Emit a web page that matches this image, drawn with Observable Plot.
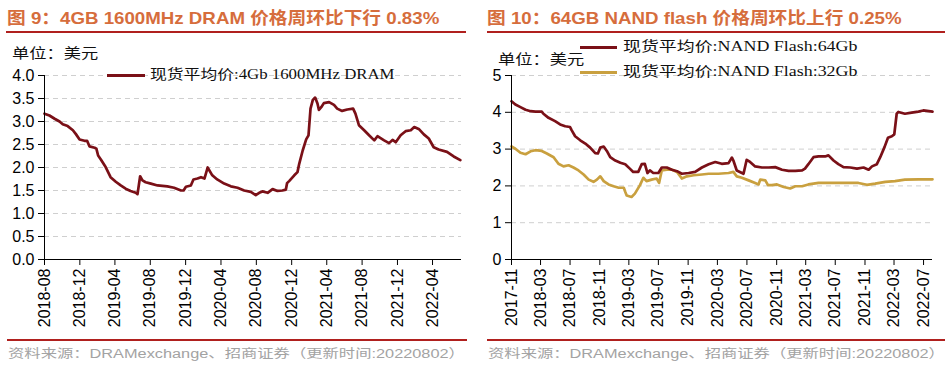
<!DOCTYPE html>
<html><head><meta charset="utf-8">
<script src="https://cdn.jsdelivr.net/npm/d3@7"></script>
<script src="https://cdn.jsdelivr.net/npm/@observablehq/plot@0.6"></script>
<style>
body{margin:0;background:#fff;width:950px;height:367px;position:relative;overflow:hidden;font-family:"Liberation Sans",Arial,"Noto Sans CJK SC",sans-serif;}
.abs{position:absolute;white-space:nowrap;}
.title{font-weight:bold;color:#D66D3C;font-size:17px;line-height:20px;font-family:"Liberation Sans",Arial,"Noto Sans CJK SC",sans-serif;transform:scaleX(1.1);transform-origin:left center;}
.rule{position:absolute;height:2px;background:#B0201E;}
.unit{font-size:14px;line-height:16px;color:#111;font-family:"Noto Sans CJK SC",sans-serif;transform:scaleX(1.23);transform-origin:left center;}
.leg{font-size:14px;line-height:16px;color:#111;font-family:"Liberation Serif","Noto Sans CJK SC",serif;transform-origin:left center;}
.legline{position:absolute;height:3px;}
.cap{font-size:12.5px;line-height:16px;color:#a3a3a3;font-family:"Liberation Sans",Arial,"Noto Sans CJK SC",sans-serif;transform:scaleX(1.305);transform-origin:left center;}
.panel{position:absolute;top:60px;}
</style>
</head><body>
<div class="abs title" style="left:7px;top:9px;">图 9：4GB 1600MHz DRAM 价格周环比下行 0.83%</div>
<div class="rule" style="left:6px;top:31px;width:460px;"></div>
<div class="abs title" style="left:487px;top:9px;">图 10：64GB NAND flash 价格周环比上行 0.25%</div>
<div class="rule" style="left:487px;top:31px;width:458px;"></div>

<div id="left" class="panel" style="left:0px;"></div>
<div id="right" class="panel" style="left:475px;"></div>

<div class="abs unit" style="left:12px;top:44px;">单位：美元</div>
<div class="abs unit" style="left:498px;top:50px;">单位：美元</div>

<div class="legline" style="left:107px;top:74px;width:38px;background:#7A1017;"></div>
<div class="abs leg" style="left:150px;top:67px;transform:scaleX(1.2);">现货平均价:4Gb 1600MHz DRAM</div>
<div class="legline" style="left:580px;top:46px;width:37px;background:#7A1017;"></div>
<div class="abs leg" style="left:623px;top:39px;transform:scaleX(1.28);">现货平均价:NAND Flash:64Gb</div>
<div class="legline" style="left:580px;top:71px;width:37px;background:#C9A03F;"></div>
<div class="abs leg" style="left:623px;top:64px;transform:scaleX(1.28);">现货平均价:NAND Flash:32Gb</div>

<div class="rule" style="left:7px;top:339px;width:460px;"></div>
<div class="rule" style="left:487px;top:339px;width:458px;"></div>
<div class="abs cap" style="left:8px;top:346px;">资料来源：DRAMexchange、招商证券（更新时间:20220802）</div>
<div class="abs cap" style="left:488px;top:346px;">资料来源：DRAMexchange、招商证券（更新时间:20220802）</div>

<script>
// ---- Figure 9: 4Gb 1600MHz DRAM spot average price (USD) ----
const dramTicks = ["2018-08","2018-12","2019-04","2019-08","2019-12","2020-04","2020-08","2020-12","2021-04","2021-08","2021-12","2022-04"];
const dramYTicks = [0,0.5,1,1.5,2,2.5,3,3.5,4];
const dramDates = ["2018-08-01","2018-08-18","2018-09-05","2018-09-22","2018-10-03","2018-10-20","2018-11-07","2018-11-18","2018-11-30","2018-12-17",
"2018-12-26","2019-01-03","2019-01-21","2019-01-27","2019-02-02","2019-02-12","2019-02-28","2019-03-17","2019-04-04","2019-04-21",
"2019-05-08","2019-05-25","2019-06-12","2019-06-18","2019-06-27","2019-07-05","2019-07-16","2019-08-03","2019-08-26","2019-09-29",
"2019-10-22","2019-11-15","2019-11-24","2019-12-02","2019-12-19","2019-12-28","2020-01-11","2020-01-23","2020-02-04","2020-02-15",
"2020-03-02","2020-03-19","2020-04-12","2020-05-05","2020-05-28","2020-06-20","2020-07-13","2020-07-30","2020-08-11","2020-08-22",
"2020-09-09","2020-09-26","2020-10-13","2020-10-30","2020-11-11","2020-11-15","2020-11-23","2020-12-10","2020-12-21","2020-12-27",
"2021-01-08","2021-01-20","2021-01-28","2021-02-04","2021-02-12","2021-02-20","2021-02-28","2021-03-05","2021-03-13","2021-03-22",
"2021-04-09","2021-04-26","2021-05-07","2021-05-24","2021-06-11","2021-07-01","2021-07-09","2021-07-21","2021-08-08","2021-08-25",
"2021-09-12","2021-09-23","2021-10-16","2021-11-02","2021-11-14","2021-11-25","2021-12-12","2021-12-29","2022-01-16","2022-01-28",
"2022-02-14","2022-03-02","2022-03-19","2022-04-05","2022-04-22","2022-05-21","2022-06-13","2022-07-06"];
const dramValues = [3.17,3.13,3.06,3.0,2.94,2.9,2.81,2.72,2.61,2.58,
2.58,2.46,2.43,2.41,2.26,2.17,2.01,1.79,1.69,1.61,
1.54,1.49,1.45,1.42,1.81,1.72,1.68,1.65,1.61,1.59,
1.56,1.5,1.5,1.58,1.61,1.74,1.76,1.79,1.76,2.0,
1.83,1.74,1.65,1.59,1.56,1.5,1.47,1.4,1.45,1.48,
1.45,1.53,1.49,1.5,1.52,1.66,1.71,1.83,1.9,2.08,
2.37,2.61,2.7,3.28,3.47,3.52,3.39,3.25,3.31,3.4,
3.42,3.36,3.28,3.23,3.26,3.28,3.17,2.92,2.81,2.7,
2.59,2.68,2.59,2.53,2.6,2.55,2.7,2.79,2.81,2.88,
2.83,2.72,2.63,2.44,2.39,2.34,2.24,2.16];

// ---- Figure 10: NAND Flash spot average price (USD) ----
const nandTicks = ["2017-11","2018-03","2018-07","2018-11","2019-03","2019-07","2019-11","2020-03","2020-07","2020-11","2021-03","2021-07","2021-11","2022-03","2022-07"];
const nandYTicks = [0,1,2,3,4,5];
const nand64Dates = ["2017-11-01","2017-11-17","2017-12-08","2017-12-29","2018-01-19","2018-02-08","2018-03-06","2018-03-13","2018-04-03","2018-04-30",
"2018-05-21","2018-06-11","2018-07-01","2018-07-08","2018-07-22","2018-08-12","2018-09-02","2018-09-22","2018-10-13","2018-10-24",
"2018-11-03","2018-11-17","2018-11-30","2018-12-14","2019-01-04","2019-01-25","2019-02-14","2019-03-05","2019-03-19","2019-04-09",
"2019-04-23","2019-05-06","2019-05-17","2019-05-27","2019-06-10","2019-07-01","2019-07-15","2019-08-05","2019-08-26","2019-09-16",
"2019-10-06","2019-11-03","2019-11-30","2019-12-28","2020-01-25","2020-02-21","2020-03-19","2020-04-16","2020-04-30","2020-05-06",
"2020-05-20","2020-06-17","2020-06-30","2020-07-14","2020-08-04","2020-09-01","2020-09-29","2020-10-26","2020-11-23","2020-12-20",
"2021-01-17","2021-02-14","2021-02-26","2021-03-12","2021-04-02","2021-04-23","2021-05-20","2021-06-03","2021-06-24","2021-07-14",
"2021-08-04","2021-09-01","2021-09-29","2021-10-26","2021-11-16","2021-11-30","2021-12-20","2022-01-03","2022-01-21","2022-02-04",
"2022-02-20","2022-03-02","2022-03-12","2022-03-19","2022-04-15","2022-05-13","2022-06-10","2022-06-30","2022-08-07"];
const nand64Values = [4.30,4.21,4.14,4.07,4.03,4.02,4.02,3.96,3.85,3.76,
3.67,3.62,3.6,3.51,3.35,3.24,3.15,3.04,2.89,2.88,
3.04,3.07,2.95,2.78,2.69,2.63,2.59,2.47,2.38,2.38,
2.59,2.6,2.35,2.42,2.35,2.35,2.5,2.5,2.44,2.4,
2.33,2.35,2.38,2.5,2.59,2.65,2.6,2.62,2.77,2.69,
2.42,2.33,2.71,2.65,2.53,2.5,2.5,2.51,2.44,2.41,
2.41,2.42,2.47,2.59,2.78,2.8,2.8,2.83,2.69,2.59,
2.51,2.5,2.47,2.5,2.44,2.53,2.59,2.78,3.06,3.31,
3.35,3.4,3.96,4.01,3.96,3.99,4.02,4.05,4.02];
const nand32Dates = ["2017-11-01","2017-11-17","2017-12-08","2017-12-29","2018-01-19","2018-02-08","2018-03-06","2018-03-27","2018-04-24","2018-05-14",
"2018-06-04","2018-06-25","2018-07-15","2018-08-05","2018-08-26","2018-09-16","2018-10-06","2018-10-20","2018-11-03","2018-11-17",
"2018-12-07","2018-12-28","2019-01-18","2019-02-08","2019-02-14","2019-02-20","2019-03-12","2019-03-26","2019-04-16","2019-04-30",
"2019-05-13","2019-06-03","2019-06-24","2019-07-04","2019-07-15","2019-08-05","2019-08-26","2019-09-16","2019-10-06","2019-10-27",
"2019-11-24","2019-12-28","2020-01-25","2020-03-05","2020-04-16","2020-05-06","2020-05-20","2020-06-10","2020-07-08","2020-08-04",
"2020-08-18","2020-08-25","2020-09-15","2020-09-26","2020-10-12","2020-11-02","2020-11-30","2020-12-27","2021-01-17","2021-02-14",
"2021-03-12","2021-04-23","2021-06-17","2021-08-11","2021-10-05","2021-11-09","2021-12-13","2022-01-24","2022-03-05","2022-04-15",
"2022-06-10","2022-08-07"];
const nand32Values = [3.07,3.01,2.90,2.86,2.94,2.97,2.95,2.88,2.78,2.60,
2.53,2.56,2.50,2.42,2.31,2.17,2.11,2.17,2.26,2.13,
2.04,1.99,1.95,1.95,1.84,1.74,1.70,1.79,2.02,2.22,
2.13,2.17,2.20,2.08,2.42,2.44,2.44,2.38,2.20,2.26,
2.29,2.31,2.33,2.33,2.35,2.38,2.26,2.22,2.15,2.08,
2.04,2.17,2.15,2.02,2.02,2.04,1.97,1.93,1.99,1.99,
2.04,2.08,2.08,2.08,2.08,2.03,2.06,2.11,2.13,2.17,
2.18,2.18];

const C_DARK = "#7A1017", C_GOLD = "#C9A03F";
const toDate = s => new Date(s.length === 7 ? s + "-01T00:00:00Z" : s + "T00:00:00Z");
const rows = (dates, values) => dates.map((d, i) => ({date: toDate(d), value: values[i]}));

function chart({xDomain, xTicks, yTicks, fmt, series, ml, mr}) {
  const yDomain = [yTicks[0], yTicks[yTicks.length - 1]];
  return Plot.plot({
    width: 475, height: 280, marginTop: 15, marginBottom: 81, marginLeft: ml, marginRight: mr,
    style: {fontFamily: '"Liberation Sans", Arial, sans-serif', fontSize: "16px", color: "#000", background: "transparent", overflow: "visible"},
    x: {type: "utc", domain: xDomain, ticks: xTicks.map(toDate), tickFormat: d3.utcFormat("%Y-%m"), tickRotate: -90, tickSize: 6, tickPadding: 3, label: null},
    y: {domain: yDomain, ticks: yTicks, tickFormat: fmt, tickSize: 6, tickPadding: 4, label: null},
    marks: [
      Plot.ruleY(yTicks.filter(d => d > yDomain[0]), {stroke: "#cfcfcf", strokeDasharray: "5,4", strokeWidth: 1}),
      ...series.map(s => Plot.line(s.data, {x: "date", y: "value", stroke: s.color, strokeWidth: 2.7})),
      Plot.ruleY([yDomain[0]], {stroke: "#000", strokeWidth: 1}),
      Plot.ruleX([xDomain[0]], {stroke: "#000", strokeWidth: 1})
    ]
  });
}

document.getElementById("left").appendChild(chart({
  xDomain: [toDate("2018-08-01"), toDate("2022-07-10")],
  xTicks: dramTicks, yTicks: dramYTicks, fmt: d => d.toFixed(1),
  series: [{data: rows(dramDates, dramValues), color: C_DARK}],
  ml: 44, mr: 14
}));
document.getElementById("right").appendChild(chart({
  xDomain: [toDate("2017-11-01"), toDate("2022-08-07")],
  xTicks: nandTicks, yTicks: nandYTicks, fmt: d => String(d),
  series: [{data: rows(nand32Dates, nand32Values), color: C_GOLD}, {data: rows(nand64Dates, nand64Values), color: C_DARK}],
  ml: 36, mr: 18
}));
</script>
</body></html>
